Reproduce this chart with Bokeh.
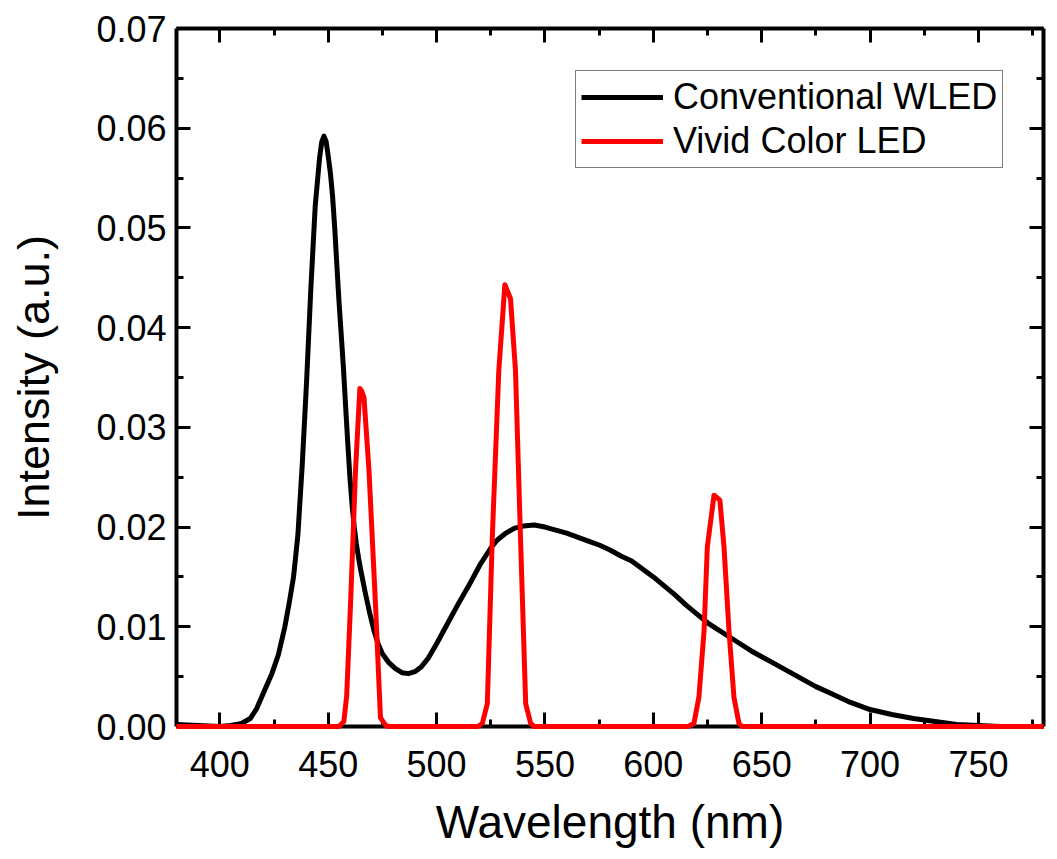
from bokeh.plotting import figure
from bokeh.models import (Range1d, LinearAxis, SingleIntervalTicker,
                          NumeralTickFormatter, Legend, LegendItem)
from bokeh.embed import file_html
from bokeh.resources import INLINE

# ---- data ----
wled_nm = [380, 390, 400, 405, 410, 414, 417, 421, 424, 427, 430, 432, 434,
           436, 438, 440, 442, 444, 446, 447, 448, 449, 450, 451, 452, 453,
           454, 455, 456, 457, 458, 459, 460, 461, 462, 463, 464, 465, 467,
           469, 471, 473, 475, 478, 481, 484, 487, 490, 493, 496, 500, 505,
           510, 515, 520, 525, 528, 532, 536, 540, 545, 550, 555, 560, 565,
           570, 575, 580, 585, 590, 595, 600, 605, 610, 615, 620, 625, 630,
           635, 640, 645, 650, 655, 660, 665, 670, 675, 680, 690, 700, 710,
           720, 730, 740, 750, 760, 780]
wled_int = [0.0002, 0.0001, 0.0000, 0.0001, 0.0003, 0.0008, 0.0018, 0.0038,
            0.0053, 0.0072, 0.0100, 0.0124, 0.0150, 0.0192, 0.0262, 0.0345,
            0.0440, 0.0522, 0.0570, 0.0586, 0.0592, 0.0587, 0.0572, 0.0555,
            0.0532, 0.0500, 0.0462, 0.0425, 0.0393, 0.0360, 0.0322, 0.0285,
            0.0250, 0.0222, 0.0200, 0.0183, 0.0169, 0.0157, 0.0135, 0.0115,
            0.0097, 0.0083, 0.0073, 0.0064, 0.0058, 0.0054, 0.0053, 0.0055,
            0.0060, 0.0068, 0.0083, 0.0103, 0.0123, 0.0142, 0.0162, 0.0179,
            0.0187, 0.0194, 0.0199, 0.0201, 0.0202, 0.0200, 0.0197, 0.0194,
            0.0190, 0.0186, 0.0182, 0.0177, 0.0171, 0.0166, 0.0158, 0.0150,
            0.0141, 0.0132, 0.0122, 0.0113, 0.0104, 0.0097, 0.0090, 0.0083,
            0.0076, 0.0070, 0.0064, 0.0058, 0.0052, 0.0046, 0.0040, 0.0035,
            0.0025, 0.0017, 0.0012, 0.0008, 0.0005, 0.0002, 0.0001, 0.0000,
            0.0000]

vivid_nm = [380, 455, 457.2, 458.5, 460.3, 462.6, 464.6, 465.3, 466.5, 468.8,
            471.8, 474.1, 476.5, 478,
            519, 521.1, 523.4, 525.7, 528.7, 531.5, 534.1, 536.4, 538.7,
            541.1, 543.4, 545,
            616, 618.7, 621, 623.4, 624.9, 628, 630.7, 632.6, 634.9, 637.2,
            639.5, 641, 780]
vivid_int = [0.0, 0.0, 0.0005, 0.0030, 0.0123, 0.0257, 0.0339, 0.0337, 0.0330,
             0.0257, 0.0123, 0.0009, 0.0001, 0.0,
             0.0, 0.0003, 0.0023, 0.0190, 0.0357, 0.0443, 0.0429, 0.0357,
             0.0190, 0.0023, 0.0003, 0.0,
             0.0, 0.0003, 0.0029, 0.0096, 0.0180, 0.0232, 0.0227, 0.0180,
             0.0096, 0.0029, 0.0003, 0.0, 0.0]

series_labels = ["Conventional WLED", "Vivid Color LED"]
x_title = "Wavelength (nm)"
y_title = "Intensity (a.u.)"

FONT = "Liberation Sans"

p = figure(frame_width=867, frame_height=698,
           x_range=Range1d(380, 780), y_range=Range1d(0, 0.07),
           output_backend="svg", toolbar_location=None,
           min_border_left=176, min_border_right=6,
           min_border_top=28, min_border_bottom=125)
p.xgrid.visible = False
p.ygrid.visible = False
p.outline_line_color = None
p.background_fill_color = "white"
p.border_fill_color = "white"

xt = SingleIntervalTicker(interval=50, num_minor_ticks=2)
yt = SingleIntervalTicker(interval=0.01, num_minor_ticks=2)


def style(ax):
    ax.axis_line_width = 4
    ax.axis_line_color = "black"
    ax.major_tick_in = 14
    ax.major_tick_out = 0
    ax.minor_tick_in = 7
    ax.minor_tick_out = 0
    ax.major_tick_line_width = 3
    ax.minor_tick_line_width = 3
    ax.major_tick_line_color = "black"
    ax.minor_tick_line_color = "black"


xa = p.xaxis[0]
xa.ticker = xt
style(xa)
xa.major_label_text_font = FONT
xa.major_label_text_font_size = "36px"
xa.major_label_text_color = "black"
xa.major_label_standoff = 24
xa.axis_label = x_title
xa.axis_label_text_font = FONT
xa.axis_label_text_font_size = "46px"
xa.axis_label_text_font_style = "normal"
xa.axis_label_text_color = "black"
xa.axis_label_standoff = 16

ya = p.yaxis[0]
ya.ticker = yt
style(ya)
ya.formatter = NumeralTickFormatter(format="0.00")
ya.major_label_text_font = FONT
ya.major_label_text_font_size = "36px"
ya.major_label_text_color = "black"
ya.major_label_standoff = 10
ya.axis_label = y_title
ya.axis_label_text_font = FONT
ya.axis_label_text_font_size = "45px"
ya.axis_label_text_font_style = "normal"
ya.axis_label_text_color = "black"
ya.axis_label_standoff = 34

top = LinearAxis(ticker=SingleIntervalTicker(interval=50, num_minor_ticks=2),
                 major_label_text_color=None, major_label_text_font_size="8px",
                 major_label_standoff=0)
style(top)
p.add_layout(top, "above")
right = LinearAxis(ticker=SingleIntervalTicker(interval=0.01, num_minor_ticks=2),
                   major_label_text_color=None, major_label_text_font_size="8px",
                   major_label_standoff=0)
style(right)
p.add_layout(right, "right")

r1 = p.line(wled_nm, wled_int, line_color="black", line_width=5,
            line_join="round", level="overlay")
r2 = p.line(vivid_nm, vivid_int, line_color="#ff0000", line_width=5,
            line_join="round", level="overlay")

legend = Legend(items=[LegendItem(label=series_labels[0], renderers=[r1]),
                       LegendItem(label=series_labels[1], renderers=[r2])],
                location=(399, 558), margin=0, padding=5, spacing=2,
                glyph_width=82, glyph_height=42, label_height=42,
                label_standoff=10,
                label_text_font=FONT, label_text_font_size="36px",
                label_text_color="black",
                border_line_color="black", border_line_width=1,
                background_fill_color="white", background_fill_alpha=1.0)
p.add_layout(legend, "center")

open("out.html", "w").write(file_html(p, INLINE))
